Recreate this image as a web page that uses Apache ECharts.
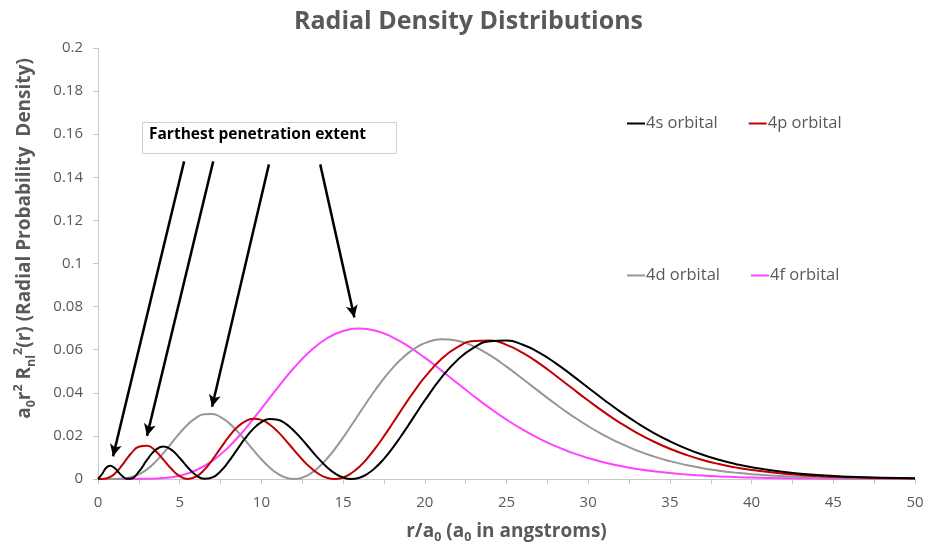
<!DOCTYPE html>
<html>
<head>
<meta charset="utf-8">
<script src="https://cdn.jsdelivr.net/npm/echarts@6/dist/echarts.min.js"></script>
<style>
html,body{margin:0;padding:0;background:#fff;overflow:hidden;width:937px;height:549px}
#c{position:absolute;left:0;top:0;width:937px;height:549px}
</style>
</head>
<body>
<div id="c"></div>
<script>
// ---- data ----
const rGrid = [0,0.25,0.5,0.75,1,1.25,1.5,1.75,2,2.5,3,3.5,4,4.5,5,5.5,6,6.5,7,7.5,8,8.5,9,9.5,10,10.5,11,11.5,12,12.5,13,13.5,14,14.5,15,15.5,16,16.5,17,17.5,18,18.5,19,19.5,20,21,22,23,24,25,26,27,28,29,30,31,32,33,34,35,36,37,38,39,40,42,44,46,48,50];
const dens4s = [0,0.00232,0.00523,0.00618,0.00519,0.00321,0.00128,0.00014,0.00016,0.00343,0.00886,0.01337,0.01503,0.01353,0.00977,0.00534,0.00175,0.00006,0.00073,0.00361,0.00814,0.01351,0.0188,0.02327,0.02639,0.02781,0.02747,0.02556,0.02231,0.01824,0.0138,0.00945,0.0056,0.00261,0.00069,0,0.0006,0.00244,0.00541,0.00937,0.0141,0.01938,0.02502,0.03079,0.03645,0.04689,0.05526,0.061,0.06392,0.06423,0.06229,0.05865,0.05379,0.04822,0.04237,0.03656,0.03105,0.02599,0.02146,0.01751,0.01412,0.01128,0.00892,0.00699,0.00543,0.00321,0.00184,0.00103,0.00057,0.00031];
const dens4p = [0,0.00002,0.00024,0.00095,0.0023,0.00425,0.00664,0.00919,0.01159,0.01496,0.01546,0.01313,0.00902,0.00462,0.00131,0,0.00105,0.00423,0.00893,0.01431,0.01954,0.02386,0.02677,0.02796,0.02742,0.02531,0.02197,0.01784,0.01339,0.00906,0.00528,0.00238,0.00057,0,0.00071,0.00266,0.00573,0.00975,0.01454,0.01987,0.02551,0.03126,0.03692,0.04232,0.04729,0.05558,0.06119,0.06402,0.06423,0.06224,0.05851,0.05363,0.04805,0.04219,0.0364,0.03089,0.02583,0.02133,0.0174,0.01403,0.0112,0.00885,0.00694,0.00539,0.00416,0.00242,0.00137,0.00076,0.00041,0.00022];
const dens4d = [0,0,0,0.00001,0.00002,0.00008,0.0002,0.00043,0.0008,0.00214,0.00447,0.00783,0.01203,0.01669,0.02132,0.02534,0.02836,0.03,0.03012,0.02874,0.02605,0.02234,0.01802,0.01348,0.00914,0.00537,0.00246,0.00062,0,0.00062,0.00246,0.00541,0.00931,0.01399,0.01923,0.02481,0.03054,0.0362,0.04164,0.04671,0.05124,0.05519,0.05851,0.06113,0.06306,0.06488,0.0642,0.06153,0.05733,0.05214,0.0464,0.04053,0.03478,0.0294,0.0245,0.02015,0.01638,0.01318,0.0105,0.00828,0.00648,0.00502,0.00387,0.00296,0.00224,0.00127,0.0007,0.00038,0.0002,0.00011];
const rGridF = [0,1,2,3,4,5,6,7,8,9,10,11,12,13,14,15,16,17,18,19,20,21,22,23,24,25,26,27,28,29,30,31,32,33,34,35,36,37,38,39,40,42,44,46,48,50];
const dens4f = [0,0,0,0.00007,0.00043,0.00155,0.00405,0.00843,0.01489,0.02317,0.03264,0.04244,0.05164,0.0594,0.0652,0.06867,0.0698,0.06877,0.06588,0.06158,0.05631,0.05046,0.0444,0.03843,0.03277,0.02755,0.02287,0.01876,0.01522,0.01222,0.00972,0.00766,0.00599,0.00465,0.00358,0.00274,0.00208,0.00157,0.00118,0.00088,0.00065,0.00036,0.00019,0.0001,0.00005,0.00003];
const seriesNames = ['4s orbital','4p orbital','4d orbital','4f orbital'];
const xTicks = [0,5,10,15,20,25,30,35,40,45,50];
const yTicks = [0,0.02,0.04,0.06,0.08,0.1,0.12,0.14,0.16,0.18,0.2];
// annotation arrows: [start, end] in data units
const arrows = [
  [[5.27,0.1474],[0.92,0.0105]],
  [[7.05,0.1474],[3.0,0.0200]],
  [[10.46,0.1460],[6.98,0.0335]],
  [[13.6,0.1460],[15.69,0.0750]]
];

const zip = (xs, ys) => xs.map((x, i) => [x, ys[i]]);
const grey = '#595959';
const font = '"Open Sans", Lato, sans-serif';
const colors = ['#000000','#c00000','#979797','#ff44ff'];

const chart = echarts.init(document.getElementById('c'), null, {renderer:'canvas', width:937, height:549});
const mk = (name, xs, ys, color) => ({
  name, type:'line', data: zip(xs, ys), smooth:true, showSymbol:false, symbol:'none',
  lineStyle:{color, width:2}, itemStyle:{color}, emphasis:{disabled:true}, z:3
});
const legendText = {fontSize:16.5, color:grey, fontFamily:font, padding:[0,0,0,-4]};
chart.setOption({
  animation:false,
  textStyle:{fontFamily:font},
  title:{text:'Radial Density Distributions', left:'center', top:4,
    textStyle:{fontSize:25, fontWeight:'bold', color:grey, fontFamily:font}},
  grid:{left:98, right:22, top:48, bottom:64},
  legend:[
    {data:[seriesNames[0],seriesNames[1]], left:627, top:115, padding:0, icon:'rect', itemWidth:18, itemHeight:2, itemGap:31,
      textStyle:legendText},
    {data:[seriesNames[2],seriesNames[3]], left:627, top:267, padding:0, icon:'rect', itemWidth:18, itemHeight:2, itemGap:31,
      textStyle:legendText}
  ],
  xAxis:{type:'value', min:0, max:50, interval:2.5,
    name:'r/a{s|0} (a{s|0} in angstroms)', nameLocation:'middle', nameGap:41,
    nameTextStyle:{fontSize:19, fontWeight:'bold', color:grey, fontFamily:font, lineHeight:24,
      rich:{s:{fontSize:12.5, fontWeight:'bold', color:grey, verticalAlign:'bottom', lineHeight:14, fontFamily:font}}},
    axisLine:{show:true, lineStyle:{color:'#c8c8c8', width:1}},
    axisTick:{show:true, length:5, lineStyle:{color:'#c8c8c8'}},
    splitLine:{show:false},
    axisLabel:{fontSize:15, color:grey, margin:16, fontFamily:font,
      formatter:v => xTicks.indexOf(v) >= 0 ? String(v) : ''}
  },
  yAxis:{type:'value', min:0, max:0.2, interval:0.02,
    name:'{n|a}{s|0}{n|r}{p|2}{n| R}{s|nl}{p|2}{n|(r) (Radial Probability  Density)}',
    nameLocation:'middle', nameGap:60,
    nameTextStyle:{fontSize:19, fontWeight:'bold', color:grey, fontFamily:font, padding:[0,0,0,50],
      rich:{
        n:{fontSize:19, fontWeight:'bold', color:grey, lineHeight:26, fontFamily:font},
        s:{fontSize:12.5, fontWeight:'bold', color:grey, verticalAlign:'bottom', lineHeight:14, fontFamily:font},
        p:{fontSize:12.5, fontWeight:'bold', color:grey, verticalAlign:'top', lineHeight:14, fontFamily:font}
      }},
    axisLine:{show:true, lineStyle:{color:'#c8c8c8', width:1}},
    axisTick:{show:true, length:5, lineStyle:{color:'#c8c8c8'}},
    splitLine:{show:false},
    axisLabel:{fontSize:15, color:grey, margin:15, fontFamily:font,
      formatter:v => { const t = yTicks.find(k => Math.abs(k - v) < 1e-9); return t === undefined ? '' : String(t); }}
  },
  graphic:[
    {type:'rect', left:142, top:122, shape:{width:254, height:31},
      style:{fill:'#ffffff', stroke:'#d0d0d0', lineWidth:1}, z:10},
    {type:'text', left:149, top:127, style:{text:'Farthest penetration extent', fill:'#000000',
      font:'bold 15.5px ' + font}, z:11}
  ],
  series:[
    mk(seriesNames[3], rGridF, dens4f, colors[3]),
    mk(seriesNames[2], rGrid, dens4d, colors[2]),
    mk(seriesNames[1], rGrid, dens4p, colors[1]),
    mk(seriesNames[0], rGrid, dens4s, colors[0]),
    {type:'line', name:'arrows', data:[], silent:true,
      markLine:{silent:true, symbol:['none','arrow'], symbolSize:[9,12], label:{show:false},
        lineStyle:{color:'#000000', width:2.5, type:'solid'}, emphasis:{disabled:true},
        data: arrows.map(a => [{coord:a[0]},{coord:a[1]}])}}
  ]
});
</script>
</body>
</html>
